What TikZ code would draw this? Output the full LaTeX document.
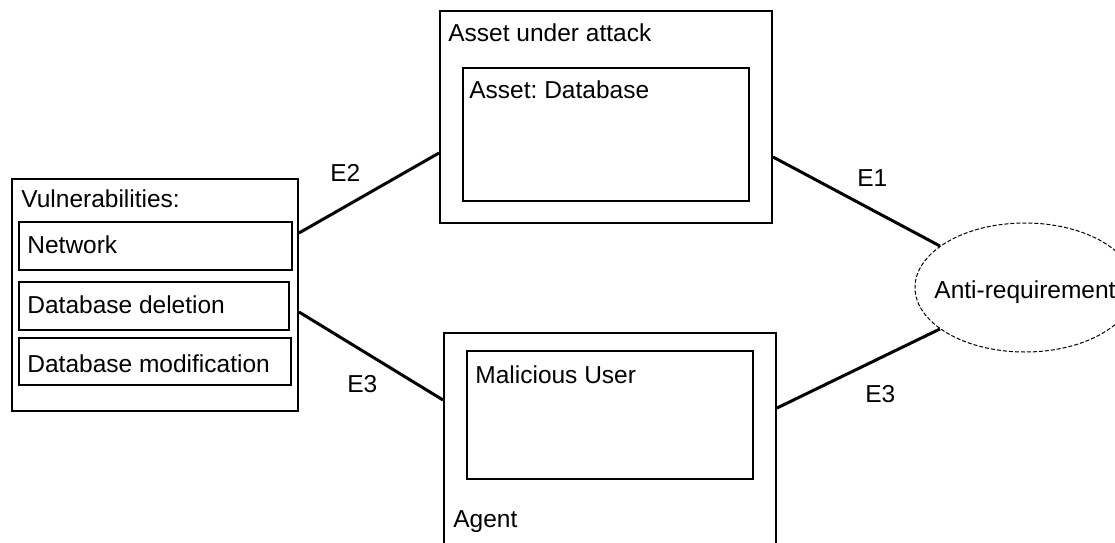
\documentclass[tikz,border=0pt]{standalone}
\usepackage{fontspec}
\setmainfont{Liberation Sans}
\usetikzlibrary{shapes.geometric}
\frenchspacing

\begin{document}
\begin{tikzpicture}[x=0.5pt, y=-0.5pt, font=\fontsize{12.25}{14}\selectfont,
    box/.style={draw, line width=1pt, inner sep=0pt},
    txt/.style={anchor=base west, inner sep=0pt},
    link/.style={line width=1.5pt}]
    \clip (0,0) rectangle (1115,542);

    % Asset under attack
    \node [box, minimum width=166pt, minimum height=106pt] (asset) at (606,117) {};
    \node [box, minimum width=143pt, minimum height=66.5pt] (database) at (606,134.5) {};
    \node [txt] (assettitle) at (448,41) {Asset under attack};
    \node [txt] (dbtext) at (469,98) {Asset: Database};

    % Vulnerabilities
    \node [box, minimum width=143pt, minimum height=116pt] (vuln) at (155,295) {};
    \node [box, minimum width=136.5pt, minimum height=24pt] (network) at (155.5,246) {};
    \node [box, minimum width=135pt, minimum height=24pt] (deletion) at (154,306) {};
    \node [box, minimum width=136pt, minimum height=23.5pt] (modification) at (155,361.5) {};
    \node [txt] (vulntitle) at (21,207) {Vulnerabilities:};
    \node [txt] (nettext) at (27,253) {Network};
    \node [txt] (deltext) at (27,313) {Database deletion};
    \node [txt] (modtext) at (27,372) {Database modification};

    % Agent
    \node [box, minimum width=166pt, minimum height=108.5pt] (agent) at (610,441.5) {};
    \node [box, minimum width=143pt, minimum height=64pt] (user) at (610,415) {};
    \node [txt] (usertext) at (475,383) {Malicious User};
    \node [txt] (agenttitle) at (453,527) {Agent};

    % Anti-requirement
    \node [draw, ellipse, dash pattern=on 2pt off 1pt, line width=0.5pt, inner sep=0pt,
        minimum width=110pt, minimum height=64.5pt] (antireq) at (1025,287.5) {};
    \node [anchor=base, inner sep=0pt] (antitext) at (1025,298) {Anti-requirement};

    % Links
    \draw [link] ([yshift=31pt]vuln.east) -- ([yshift=-18pt]asset.west);
    \draw [link] ([yshift=-8.5pt]vuln.east) -- ([yshift=20.75pt]agent.west);
    \draw [link] ([yshift=-20pt]asset.east) -- (antireq.154);
    \draw [link] ([yshift=16.75pt]agent.east) -- (antireq.206);

    \node [txt] (etwo) at (330,181) {E2};
    \node [txt] (ethreeleft) at (347,392) {E3};
    \node [txt] (eone) at (857,186) {E1};
    \node [txt] (ethreeright) at (865,402) {E3};
\end{tikzpicture}
\end{document}
